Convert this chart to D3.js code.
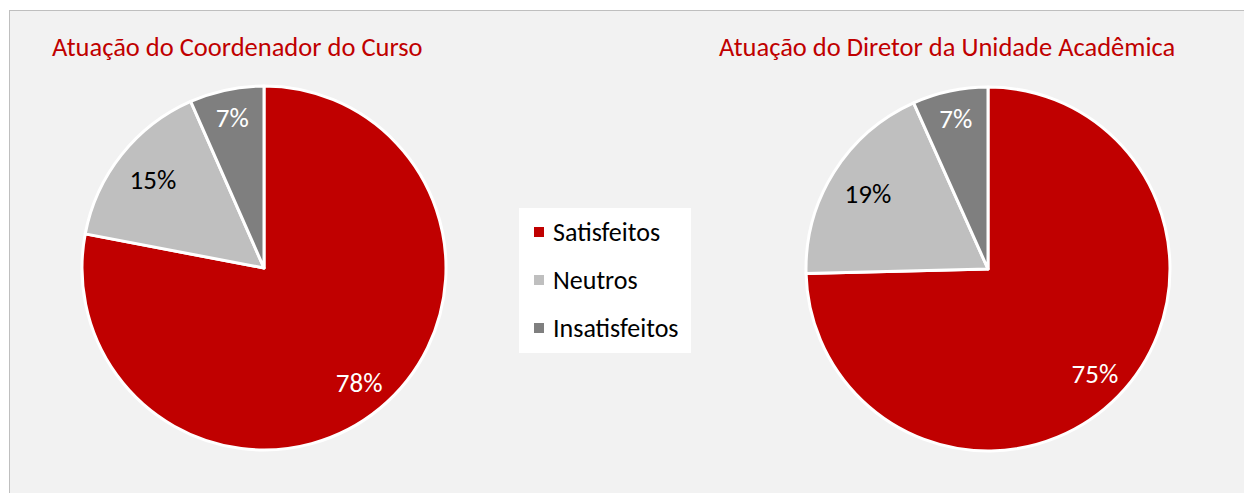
<!DOCTYPE html>
<html>
<head>
<meta charset="utf-8">
<script src="https://cdn.jsdelivr.net/npm/d3@7"></script>
<style>
  html, body { margin: 0; padding: 0; background: #ffffff; }
  svg { display: block; }
  text { font-family: Calibri, Carlito, Lato, sans-serif; }
</style>
</head>
<body>
<script>
"use strict";
(function(){
    // categories and values
    const categories = ["Satisfeitos", "Neutros", "Insatisfeitos"]
    const chartTitles = ["Atuação do Coordenador do Curso", "Atuação do Diretor da Unidade Acadêmica"]
    const coordenadorValues = [78.0, 15.4, 6.6]
    const diretorValues = [74.6, 18.7, 6.7]

    const measurements = {
        width: 1244,
        height: 493,
        radius: 182
    }

    const color = d3.scaleOrdinal()
        .domain(categories)
        .range(["#c00000", "#bfbfbf", "#7f7f7f"])
    const labelColor = d3.scaleOrdinal()
        .domain(categories)
        .range(["#ffffff", "#000000", "#ffffff"])
    // how far out each label sits, as a share of the radius
    const labelRadius = d3.scaleOrdinal()
        .domain(categories)
        .range([0.82, 0.78, 0.845])

    const svgContainer = d3.select("body").append("svg")
        .attr("width", measurements.width)
        .attr("height", measurements.height)

    // grey chart panel
    svgContainer.append("rect")
        .attr("x", 9.5)
        .attr("y", 10.5)
        .attr("width", measurements.width)
        .attr("height", measurements.height)
        .attr("fill", "#f2f2f2")
        .attr("stroke", "#bfbfbf")
        .attr("stroke-width", 1)

    const pie = d3.pie()
        .sort(null)
        .value((d) => d.value)

    const arc = d3.arc()
        .innerRadius(0)
        .outerRadius(measurements.radius)

    function drawPie(values, title, cx, cy, titleX) {
        const rows = categories.map((c, i) => ({ category: c, value: values[i] }))
        const g = svgContainer.append("g")
            .attr("transform", "translate(" + cx + "," + cy + ")")

        g.selectAll(".slice")
            .data(pie(rows))
            .enter()
            .append("path")
                .attr("class", "slice")
                .attr("d", arc)
                .attr("fill", (d) => color(d.data.category))
                .attr("stroke", "#ffffff")
                .attr("stroke-width", 3)
                .attr("stroke-linejoin", "round")

        g.selectAll(".label")
            .data(pie(rows))
            .enter()
            .append("text")
                .attr("class", "label")
                .attr("transform", function(d) {
                    const r = measurements.radius * labelRadius(d.data.category)
                    const a = (d.startAngle + d.endAngle) / 2
                    return "translate(" + (Math.sin(a) * r) + "," + (-Math.cos(a) * r) + ")"
                })
                .attr("text-anchor", "middle")
                .attr("dominant-baseline", "central")
                .attr("font-size", 27)
                .attr("fill", (d) => labelColor(d.data.category))
                .text((d) => Math.round(d.data.value) + "%")

        svgContainer.append("text")
            .attr("x", titleX)
            .attr("y", 56)
            .attr("font-size", 26.5)
            .attr("fill", "#c00000")
            .text(title)
    }

    drawPie(coordenadorValues, chartTitles[0], 264, 268, 52)
    drawPie(diretorValues, chartTitles[1], 988, 269, 719)

    // legend
    const legend = svgContainer.append("g")
    legend.append("rect")
        .attr("x", 519)
        .attr("y", 208)
        .attr("width", 172)
        .attr("height", 145)
        .attr("fill", "#ffffff")

    const item = legend.selectAll(".legend-item")
        .data(categories)
        .enter()
        .append("g")
            .attr("class", "legend-item")
            .attr("transform", (d, i) => "translate(534," + (232 + i * 48) + ")")

    item.append("rect")
        .attr("x", 0)
        .attr("y", -5)
        .attr("width", 10)
        .attr("height", 10)
        .attr("fill", (d) => color(d))

    item.append("text")
        .attr("x", 19)
        .attr("y", 0)
        .attr("dominant-baseline", "central")
        .attr("font-size", 26)
        .attr("fill", "#000000")
        .text((d) => d)
})()
</script>
</body>
</html>
